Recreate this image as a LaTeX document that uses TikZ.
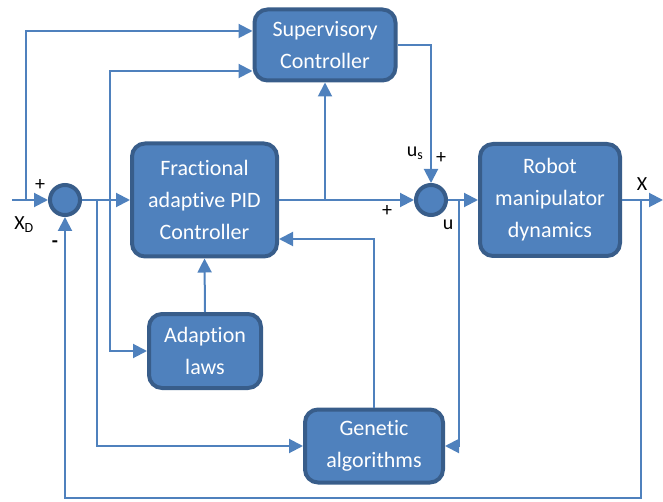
\documentclass[tikz,border=0pt]{standalone}
\usepackage{fontspec}
\setmainfont[Ligatures={NoCommon}]{Carlito}
\usetikzlibrary{arrows.meta}
\definecolor{blockfill}{HTML}{4F81BD}
\definecolor{blockedge}{HTML}{385D8A}
\definecolor{wire}{HTML}{4F81BD}
\tikzset{
  block/.style={draw=blockedge, fill=blockfill, line width=4pt, rounded corners=13pt,
    text=white, align=center, inner sep=0pt,
    font=\fontsize{22}{32}\selectfont},
  summer/.style={circle, draw=blockedge, fill=blockfill, line width=4pt,
    minimum size=30pt, inner sep=0pt},
  wireline/.style={draw=wire, line width=2pt},
  arr/.style={wireline, -{Triangle[length=14pt,width=14pt]}},
  lbl/.style={text=black, inner sep=0pt, font=\fontsize{20}{22}\selectfont},
  sgn/.style={text=black, inner sep=0pt, font=\fontsize{20}{22}\selectfont},
}
\begin{document}
\begin{tikzpicture}[x=1pt, y=-1pt]
\useasboundingbox (0,0) rectangle (663,502);

% blocks (the \kern0pt keeps "t" and "i" as separate glyphs)
\node[block, minimum width=141pt, minimum height=71pt] (sup) at (325,45) {Supervisory\\Controller};
\node[block, minimum width=145pt, minimum height=113pt] (frac) at (204.5,200) {Fract\kern0pt ional\\adaptive PID\\Controller};
\node[block, minimum width=112pt, minimum height=74pt] (adapt) at (205,351) {Adapt\kern0pt ion\\laws};
\node[block, minimum width=138pt, minimum height=73pt] (gen) at (374,446) {Genetic\\algorithms};
\node[block, minimum width=140pt, minimum height=112pt] (rob) at (550,200) {Robot\\manipulator\\dynamics};

% summing junctions
\node[summer] (s1) at (65,200) {};
\node[summer] (s2) at (431,200) {};

% free ends and branch points
\coordinate (xin) at (12,200);
\coordinate (xout) at (663,200);
\coordinate (bin) at (26,200);
\coordinate (be1) at (97,200);
\coordinate (be2) at (110,200);
\coordinate (bc) at (325,200);
\coordinate (bu) at (459,200);
\coordinate (bx) at (641,200);
\coordinate (fb) at (641,498);

% reference input
\draw[arr] (xin) -- (s1.west);
\draw[arr] (bin) |- (sup.west |- 0,31);

% error signal
\draw[arr] (s1.east) -- (frac.west);
\draw[arr] (be2) |- (sup.west |- 0,71);
\draw[arr] (be2) |- (adapt.west);
\draw[arr] (be1) |- (gen.west);

% controller outputs
\draw[arr] (frac.east) -- (s2.west);
\draw[arr] (bc) -- (sup.south);
\draw[arr] (sup.east) -| (s2.north);
\draw[arr] (adapt.north) -- (frac.south);
\draw[arr] (gen.north) |- (frac.east |- 0,239);

% plant and feedback
\draw[arr] (s2.east) -- (rob.west);
\draw[arr] (bu) |- (gen.east);
\draw[arr] (rob.east) -- (xout);
\draw[arr] (bx) -- (fb) -| (s1.south);

% labels
\node[sgn] at (40,185) {+};
\node[lbl, anchor=center] at (24,225) {X\textsubscript{D}};
\node[sgn] at (55,244) {\textbf{-}};
\node[sgn] at (387,211) {+};
\node[lbl] at (415,153) {u\textsubscript{s}};
\node[sgn] at (441,158) {+};
\node[lbl] at (448,225) {u};
\node[lbl] at (642,184) {X};
\end{tikzpicture}
\end{document}
